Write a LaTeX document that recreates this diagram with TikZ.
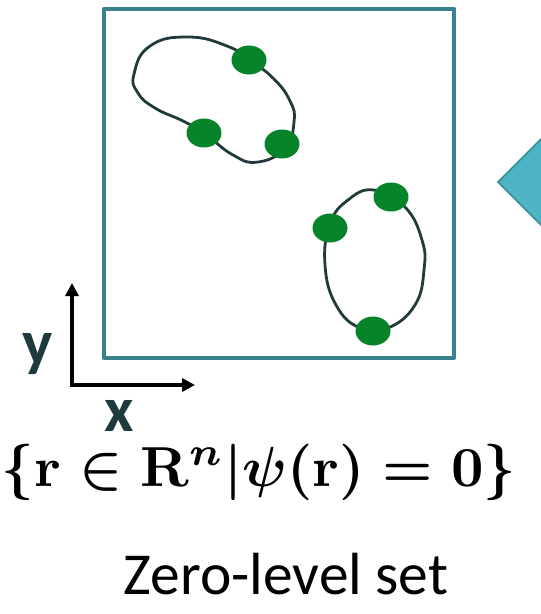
\documentclass[tikz,border=0pt]{standalone}
\usepackage{fontspec}
\usepackage{graphicx}
\setmainfont{Carlito}
\usetikzlibrary{arrows.meta}
\newsavebox{\zlbox}
\begin{document}
\sbox{\zlbox}{\resizebox{514pt}{!}{\boldmath$\{\mathbf{r}\in\mathbf{R}^{n}|\psi(\mathbf{r})=\mathbf{0}\}$}}%
\begin{tikzpicture}[x=1pt,y=-1pt,
  frame/.style={draw=boxteal,line width=4.5pt,line join=round},
  curve/.style={draw=curvedark,line width=2.8pt},
  axis/.style={line width=3.5pt,-{Triangle[length=13pt,width=13pt]}},
  axlabel/.style={text=labelslate,anchor=base,inner sep=0pt,font=\fontsize{64}{70}\selectfont\bfseries}]
\definecolor{boxteal}{HTML}{3B808E}
\definecolor{curvedark}{HTML}{233A3C}
\definecolor{dotgreen}{HTML}{07842A}
\definecolor{labelslate}{HTML}{1F3A3D}
\definecolor{arrfill}{HTML}{4CB4C4}
\definecolor{arrdraw}{HTML}{3A8C9A}
\useasboundingbox (0,0) rectangle (541,614);
\begin{scope}
\clip (0,0) rectangle (541,614);
\draw[fill=arrfill,draw=arrdraw,line width=1.5pt] (498,182) -- (545,135) -- (592,182) -- (545,229) -- cycle;
\end{scope}
\draw[frame] (104,9) rectangle (454,358);
% upper blob
\draw[curve] plot[smooth cycle,tension=0.8] coordinates {(134,74) (150,46) (188,37) (227,46) (249,60) (273,78) (290,101) (294,122) (285,148) (258,162) (233,155) (204,133) (183,121) (155,108) (138,93)};
% lower blob
\draw[curve] plot[smooth cycle,tension=0.75] coordinates {(374,190) (405,207) (422,240) (424,270) (415,305) (388,328) (360,328) (336,305) (325,265) (330,224) (348,200)};
\foreach \p in {{(249,60)},{(204,133)},{(282,144)},{(330,228)},{(391,197)},{(373,331)}}
  \fill[dotgreen] \p ellipse [x radius=17.5pt,y radius=14.5pt];
% axes
\coordinate (ybase) at (72,387);
\coordinate (xbase) at (70.3,385);
\coordinate (ytip) at (72,283);
\coordinate (xtip) at (195,385);
\draw[axis] (ybase) -- (ytip);
\draw[axis] (xbase) -- (xtip);
\node[axlabel] (ylab) at (38,364) {y};
\node[axlabel,text depth=0pt] (xlab) at (119,431) {x};
\node[inner sep=0pt] (formula) at (259,472) {\usebox{\zlbox}};
\node[font=\fontsize{59.5}{66}\selectfont] (cap) at (286,574) {Zero-level set};
\end{tikzpicture}
\end{document}
